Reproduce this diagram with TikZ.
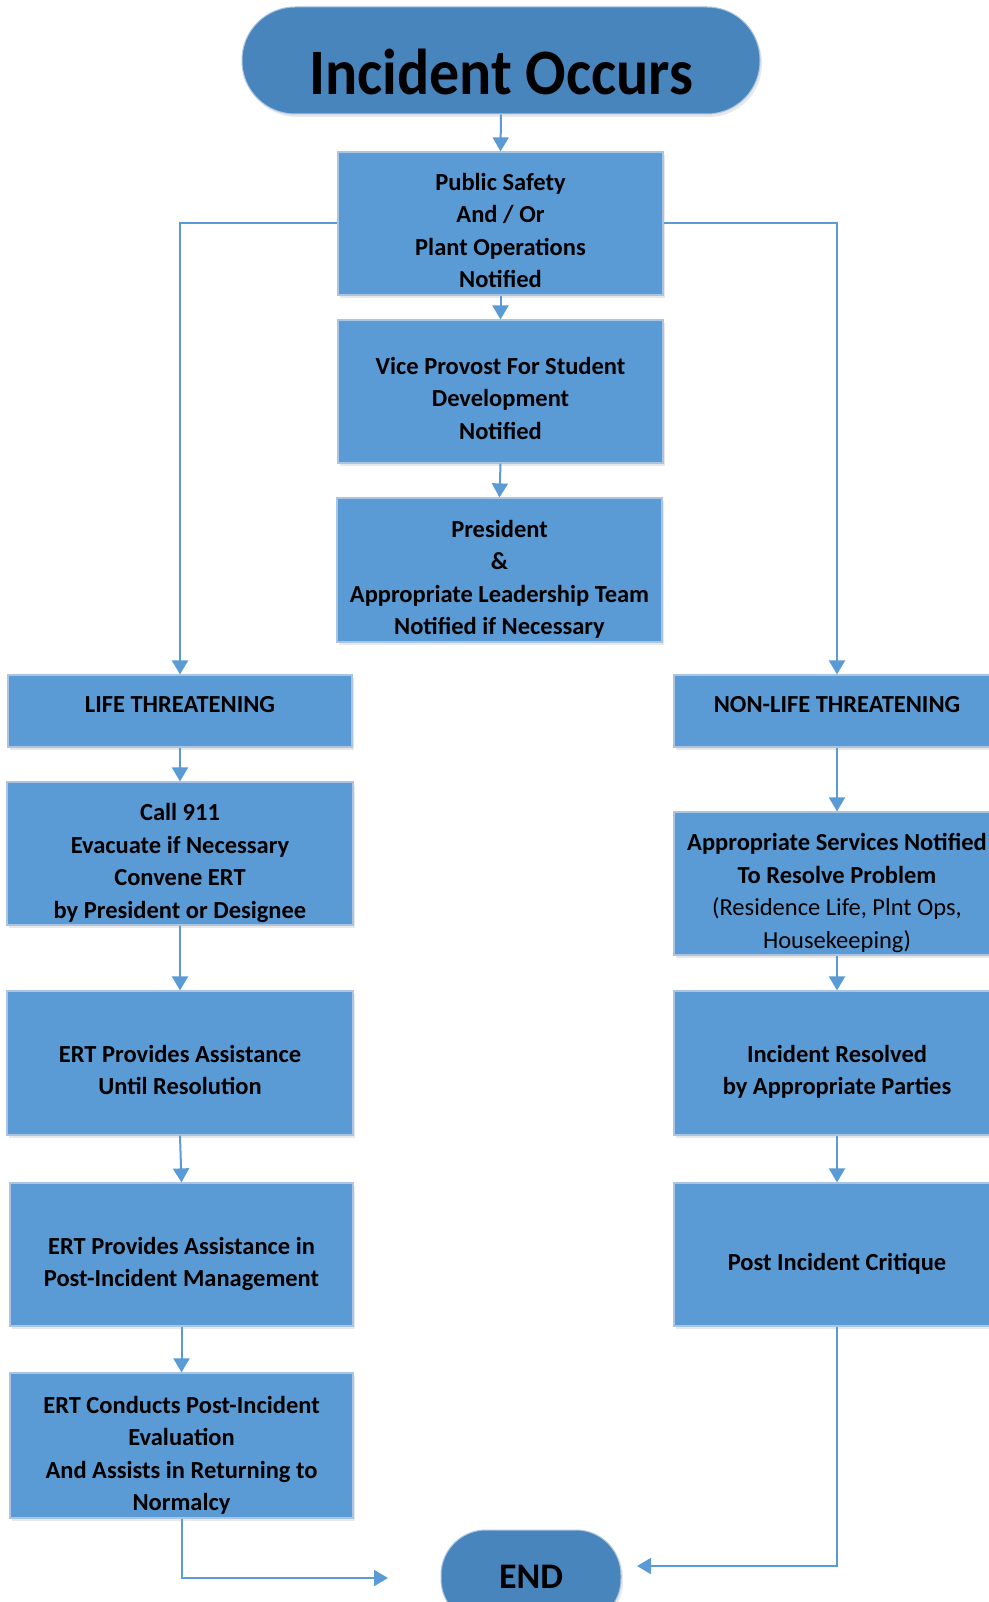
\documentclass[tikz,border=0pt]{standalone}
\usepackage{fontspec}
\setmainfont{Carlito}
\usetikzlibrary{arrows.meta,shadows}
\definecolor{boxfill}{RGB}{91,155,213}
\definecolor{pillfill}{RGB}{72,133,189}
\definecolor{boxline}{RGB}{170,196,226}
\definecolor{arrowc}{RGB}{91,155,213}
% text lowered (keeps total size) or raised (extra space below)
\newcommand{\tdown}[2]{\raisebox{0pt}[\dimexpr\height+#1\relax][\dimexpr\depth-#1\relax]{\begin{tabular}{@{}c@{}}#2\end{tabular}}}
\newcommand{\tupp}[2]{\raisebox{0pt}[\height][\dimexpr\depth+#1\relax]{#2}}
\begin{document}
\begin{tikzpicture}[x=1pt,y=-1pt,
  box/.style={rectangle, fill=boxfill, draw=boxline, line width=1.2pt, inner sep=0pt,
    align=center, text=black, font=\fontsize{24.5}{32.4}\selectfont\bfseries,
    drop shadow={opacity=0.18, shadow xshift=2pt, shadow yshift=-3pt}},
  pill/.style={rectangle, fill=pillfill, draw=boxline, line width=1pt, inner sep=0pt,
    align=center, text=black,
    drop shadow={opacity=0.18, shadow xshift=2pt, shadow yshift=-3pt}},
  arr/.style={draw=arrowc, line width=2pt, -{Triangle[width=16pt,length=14pt]}}]
\useasboundingbox (0,0) rectangle (988,1602);
\fill[white] (0,0) rectangle (988,1602);

% top pill
\node[pill, minimum width=518pt, minimum height=107pt, rounded corners=53pt,
  font=\fontsize{60}{70}\selectfont\bfseries] (inc) at (501,60.5)
  {\raisebox{0pt}[\dimexpr\height+24pt\relax][\depth]{\scalebox{1}[1.08]{Incident Occurs}}};

% centre column
\node[box, minimum width=325pt, minimum height=143pt] (b1) at (500.5,223.5)
  {\tdown{9pt}{Public Safety\\And / Or\\Plant Operations\\Notified}};
\node[box, minimum width=325pt, minimum height=143pt] (b2) at (500.5,391.5)
  {\tdown{9pt}{Vice Provost For Student\\Development\\Notified}};
\node[box, minimum width=325pt, minimum height=144pt] (b3) at (499.5,570)
  {\tdown{9.5pt}{President\\\&\\Appropriate Leadership Team\\Notified if Necessary}};

% left column
\node[box, minimum width=344pt, minimum height=72pt] (life) at (180,711)
  {\tupp{12pt}{LIFE THREATENING}};
\node[box, minimum width=346pt, minimum height=143pt] (call) at (180,853.5)
  {\tdown{9.5pt}{Call 911\\Evacuate if Necessary\\Convene ERT\\by President or Designee}};
\node[box, minimum width=346pt, minimum height=144pt] (ert1) at (180,1063)
  {\tdown{9pt}{ERT Provides Assistance\\Until Resolution}};
\node[box, minimum width=343pt, minimum height=143pt] (ert2) at (181.5,1254.5)
  {\tdown{9.5pt}{ERT Provides Assistance in\\Post-Incident Management}};
\node[box, minimum width=343pt, minimum height=145pt] (ert3) at (181.5,1445.5)
  {\tdown{10pt}{ERT Conducts Post-Incident\\Evaluation\\And Assists in Returning to\\Normalcy}};

% right column
\node[box, minimum width=326pt, minimum height=72pt] (nonlife) at (837,711)
  {\tupp{12pt}{NON-LIFE THREATENING}};
\node[box, minimum width=326pt, minimum height=143pt] (appr) at (837,883.5)
  {\tdown{9.5pt}{Appropriate Services Notified\\To Resolve Problem\\\mdseries (Residence Life, Plnt Ops,\\\mdseries Housekeeping)}};
\node[box, minimum width=326pt, minimum height=144pt] (res) at (837,1063)
  {\tdown{9pt}{Incident Resolved\\by Appropriate Parties}};
\node[box, minimum width=326pt, minimum height=143pt] (post) at (837,1254.5)
  {\tdown{10pt}{Post Incident Critique}};

% end pill
\node[pill, minimum width=180pt, minimum height=94pt, rounded corners=45pt,
  font=\fontsize{36}{40}\selectfont\bfseries] (endn) at (531,1577) {END};

\coordinate (endL) at (388,1578);
\coordinate (endR) at (637,1566);

% connectors
\draw[arr] (inc.south) -- (b1.north);
\draw[arr] (b1.south) -- (b2.north);
\draw[arr] (b2.south) -- (b3.north);
\draw[arr] (b1.west) -| (life.north);
\draw[arr] (b1.east) -| (nonlife.north);
\draw[arr] (life.south) -- (call.north);
\draw[arr] (call.south) -- (ert1.north);
\draw[arr] (ert1.south) -- (ert2.north);
\draw[arr] (ert2.south) -- (ert3.north);
\draw[arr] (nonlife.south) -- (appr.north);
\draw[arr] (appr.south) -- (res.north);
\draw[arr] (res.south) -- (post.north);
\draw[arr] (ert3.south) |- (endL);
\draw[arr] (post.south) |- (endR);
\end{tikzpicture}
\end{document}
